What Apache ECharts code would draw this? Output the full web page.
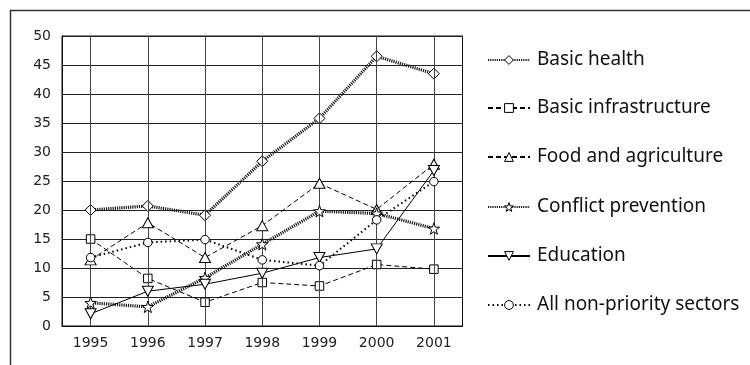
<!DOCTYPE html>
<html>
<head>
<meta charset="utf-8">
<script src="https://cdn.jsdelivr.net/npm/echarts@6/dist/echarts.min.js"></script>
<style>
html,body{margin:0;padding:0;background:#fff;}
#chart{width:750px;height:365px;}
</style>
</head>
<body>
<div id="chart"></div>
<script>
var categories = ['1995','1996','1997','1998','1999','2000','2001'];
var yTicks = [0,5,10,15,20,25,30,35,40,45,50];
var basicHealth = [20.0, 20.7, 19.1, 28.4, 35.8, 46.5, 43.5];
var basicInfrastructure = [15.0, 8.2, 4.1, 7.5, 6.9, 10.6, 9.8];
var foodAgriculture = [11.4, 17.8, 11.8, 17.3, 24.6, 20.1, 27.9];
var conflictPrevention = [4.0, 3.3, 8.3, 14.1, 19.8, 19.4, 16.8];
var education = [2.1, 6.0, 7.2, 9.1, 11.8, 13.3, 26.8];
var nonPriority = [11.8, 14.4, 14.9, 11.4, 10.4, 18.3, 24.9];
var seriesNames = ['Basic health','Basic infrastructure','Food and agriculture','Conflict prevention','Education','All non-priority sectors'];

var starPath = 'path://M0,-10L2.35,-3.24L9.51,-3.09L3.8,1.24L5.88,8.09L0,4L-5.88,8.09L-3.8,1.24L-9.51,-3.09L-2.35,-3.24Z';

var chainStyle = {color:'#1a1a1a', width:3.2, type:[1.2,1]};
var defs = [
  {data: basicHealth, symbol:'diamond', size:[11,11], line: chainStyle},
  {data: basicInfrastructure, symbol:'rect', size:8.5, line:{color:'#000', width:1, type:[5,3]}},
  {data: foodAgriculture, symbol:'triangle', size:[11,10], line:{color:'#000', width:1, type:[5,3]}},
  {data: conflictPrevention, symbol:starPath, size:11.5, line: chainStyle},
  {data: education, symbol:'triangle', size:[11,10], rotate:180, line:{color:'#000', width:1, type:'solid'}},
  {data: nonPriority, symbol:'circle', size:8.5, line:{color:'#000', width:2, type:[1.5,3]}}
];

var series = defs.map(function(d, i){
  return {
    name: seriesNames[i],
    type:'line',
    data: d.data,
    symbol: d.symbol,
    symbolSize: d.size,
    symbolRotate: d.rotate || 0,
    showAllSymbol: true,
    lineStyle: d.line,
    itemStyle: {color:'#fff', borderColor:'#000', borderWidth:1},
    emphasis:{disabled:true},
    z: 3 + i,
    animation:false
  };
});
series.push({
  type:'line', data:[], silent:true, animation:false, z:1,
  markLine:{
    silent:true, symbol:'none', animation:false,
    label:{show:false},
    lineStyle:{color:'#444', width:1, type:'solid'},
    data: categories.map(function(c){ return {xAxis:c}; })
  }
});

var rowCenters = [60,108,157,207,256,305];
var legends = seriesNames.map(function(n, i){
  return {
    data:[{name:n, itemStyle:{color:'#fff', borderColor:'#000', borderWidth:1}}],
    orient:'vertical', left:487, top: rowCenters[i]-11, padding:0,
    itemWidth:42, itemHeight:11, itemGap:0, selectedMode:false,
    textStyle:{fontFamily:'Noto Sans', fontSize:19, color:'#111', lineHeight:22, padding:[0,0,0,2]}
  };
});

var chart = echarts.init(document.getElementById('chart'), null, {renderer:'canvas'});
chart.setOption({
  backgroundColor:'#fff',
  animation:false,
  graphic:[{type:'rect', shape:{x:10.5, y:10.5, width:800, height:500}, style:{fill:'none', stroke:'#333', lineWidth:1.5}, silent:true}],
  legend: legends,
  grid:{left:62, top:36, right:287.5, bottom:39, show:true, borderColor:'#111', borderWidth:1, backgroundColor:'transparent'},
  xAxis:{
    type:'category', data:categories, boundaryGap:true,
    axisLine:{show:true, lineStyle:{color:'#111'}}, axisTick:{show:false},
    splitLine:{show:false},
    axisLabel:{fontFamily:'DejaVu Sans', fontSize:14, color:'#222', margin:10}
  },
  yAxis:{
    type:'value', min:yTicks[0], max:yTicks[yTicks.length-1], interval:yTicks[1]-yTicks[0],
    axisLine:{show:true, lineStyle:{color:'#111'}}, axisTick:{show:false},
    splitLine:{show:true, lineStyle:{color:'#222', width:1}},
    axisLabel:{fontFamily:'DejaVu Sans', fontSize:14, color:'#222', margin:11}
  },
  series: series
});
</script>
</body>
</html>
